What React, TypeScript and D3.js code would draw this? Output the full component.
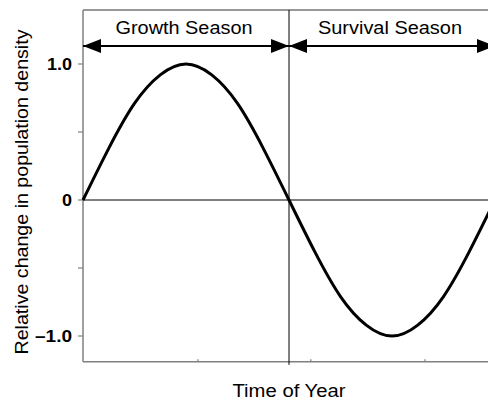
import * as d3 from 'd3';

// phase of the annual cycle (0..1) and relative change
const PHASE = [
  0, 0.0625, 0.125, 0.1875, 0.25, 0.3125, 0.375, 0.4375, 0.5,
  0.5625, 0.625, 0.6875, 0.75, 0.8125, 0.875, 0.9375, 1, 1.0625,
];
const CHANGE = [
  0, 0.38, 0.71, 0.92, 1.0, 0.92, 0.71, 0.38, 0,
  -0.38, -0.71, -0.92, -1.0, -0.92, -0.71, -0.38, 0, 0.38,
];
const SEASONS = [
  { name: 'Growth Season', start: 0, end: 0.5, width: 137 },
  { name: 'Survival Season', start: 0.5, end: 1, width: 144 },
];
const Y_TICKS = [1, 0.5, 0, -0.5, -1];
const Y_LABELS = [
  { value: 1, text: '1.0', width: 25 },
  { value: 0, text: '0', width: 10 },
  { value: -1, text: '\u20131.0', width: 37 },
];
const X_TICKS = [0.279, 0.553, 0.83];

const W = 488;
const H = 402;
const FONT = '"Liberation Sans", Arial, Helvetica, sans-serif';

export default function App() {
  const x = d3.scaleLinear().domain([0, 1]).range([83, 495]);
  const y = d3.scaleLinear().domain([-1, 1]).range([336, 64]);
  const xMax = 1.11;
  const yTop = y(1.397);
  const yBottom = y(-1.19);

  const line = d3
    .line<number>()
    .x((_, i) => x(PHASE[i]))
    .y((d) => y(d))
    .curve(d3.curveNatural);

  const divider = x(0.5);

  return (
    <svg
      width={W}
      height={H}
      style={{ position: 'absolute', left: 0, top: 0, background: '#fff' }}
      fontFamily={FONT}
    >
      <defs>
        <marker
          id="head"
          markerUnits="userSpaceOnUse"
          markerWidth={18}
          markerHeight={14}
          refX={18}
          refY={7}
          orient="auto-start-reverse"
        >
          <path d="M0,0 L18,7 L0,14 Z" fill="#000" />
        </marker>
      </defs>

      {/* frame */}
      <line x1={x(0)} x2={x(xMax)} y1={yTop} y2={yTop} stroke="#333" strokeWidth={1} />
      <line x1={x(0)} x2={x(0)} y1={yTop} y2={yBottom} stroke="#808080" strokeWidth={1.5} />
      <line x1={x(0)} x2={x(xMax)} y1={yBottom} y2={yBottom} stroke="#808080" strokeWidth={1.5} />

      {/* y ticks */}
      {Y_TICKS.map((t) => (
        <line key={t} x1={x(0) - 5} x2={x(0)} y1={y(t)} y2={y(t)} stroke="#808080" strokeWidth={1.2} />
      ))}
      {Y_LABELS.map((l) => (
        <text
          key={l.text}
          x={72}
          y={y(l.value)}
          dy="0.36em"
          textAnchor="end"
          fontSize={16}
          fontWeight="bold"
          textLength={l.width}
          lengthAdjust="spacingAndGlyphs"
        >
          {l.text}
        </text>
      ))}

      {/* x ticks */}
      {X_TICKS.map((t) => (
        <line key={t} x1={x(t)} x2={x(t)} y1={yBottom} y2={yBottom - 2.5} stroke="#808080" strokeWidth={1.2} />
      ))}

      {/* zero line and season divider */}
      <line x1={x(0)} x2={x(xMax)} y1={y(0)} y2={y(0)} stroke="#000" strokeWidth={1} />
      <line x1={divider} x2={divider} y1={yTop} y2={yBottom + 3} stroke="#000" strokeWidth={1} />

      {/* season arrows */}
      {SEASONS.map((s) => (
        <g key={s.name}>
          <line
            x1={x(s.start)}
            x2={x(s.end)}
            y1={46}
            y2={46}
            stroke="#000"
            strokeWidth={2}
            markerStart="url(#head)"
            markerEnd="url(#head)"
          />
          <text
            x={(x(s.start) + x(s.end)) / 2 - 2}
            y={34}
            textAnchor="middle"
            fontSize={17.5}
            textLength={s.width}
            lengthAdjust="spacingAndGlyphs"
          >
            {s.name}
          </text>
        </g>
      ))}

      {/* curve */}
      <path d={line(CHANGE) ?? ''} fill="none" stroke="#000" strokeWidth={3} />

      {/* axis titles */}
      <text
        x={x(0.5)}
        y={397}
        textAnchor="middle"
        fontSize={17.5}
        textLength={113}
        lengthAdjust="spacingAndGlyphs"
      >
        Time of Year
      </text>
      <text
        transform={`translate(28, 192) rotate(-90)`}
        textAnchor="middle"
        fontSize={18.5}
        textLength={325}
        lengthAdjust="spacingAndGlyphs"
      >
        Relative change in population density
      </text>
    </svg>
  );
}
